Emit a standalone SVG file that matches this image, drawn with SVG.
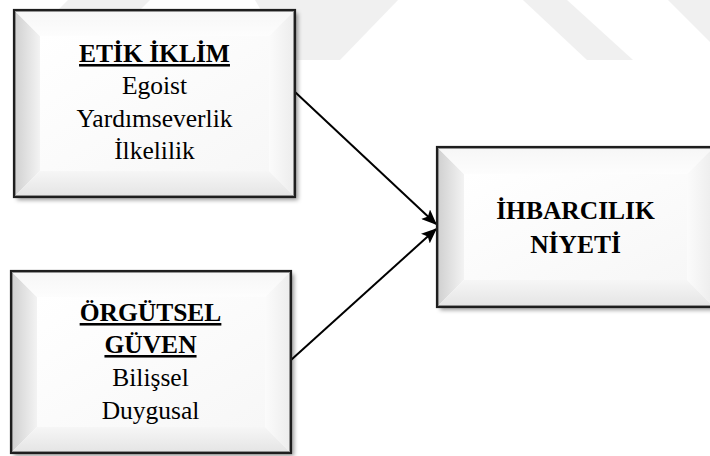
<svg xmlns="http://www.w3.org/2000/svg" width="710" height="456" viewBox="0 0 710 456">
  <defs>
    <style>
      .wm { fill: #f0f0f0; }
      .border { fill: none; stroke: #1e1e1e; stroke-width: 2.2; }
      .inner { fill: none; stroke: #8a8a8a; stroke-width: 0.8; }
      .bl { fill: url(#gLeft); }
      .bt { fill: url(#gTop); }
      .br { fill: url(#gRight); }
      .bb { fill: url(#gBottom); }
      .face { fill: url(#gFace); }
      text { font-family: "Liberation Serif", "Times New Roman", serif; font-size: 25.5px; fill: #000; text-anchor: middle; }
      .title { font-weight: bold; text-decoration: underline; }
      .title2 { font-weight: bold; }
      .conn { stroke: #000; stroke-width: 2; fill: none; marker-end: url(#arrow); }
    </style>
    <linearGradient id="gLeft" x1="0" y1="0" x2="1" y2="0">
      <stop offset="0" stop-color="#cfcfcf"/>
      <stop offset="1" stop-color="#f3f3f3"/>
    </linearGradient>
    <linearGradient id="gTop" x1="0" y1="0" x2="0" y2="1">
      <stop offset="0" stop-color="#f6f6f6"/>
      <stop offset="1" stop-color="#fdfdfd"/>
    </linearGradient>
    <linearGradient id="gRight" x1="0" y1="0" x2="1" y2="0">
      <stop offset="0" stop-color="#fbfbfb"/>
      <stop offset="1" stop-color="#ececec"/>
    </linearGradient>
    <linearGradient id="gBottom" x1="0" y1="0" x2="0" y2="1">
      <stop offset="0" stop-color="#f6f6f6"/>
      <stop offset="1" stop-color="#e4e4e4"/>
    </linearGradient>
    <linearGradient id="gFace" x1="0" y1="0" x2="1" y2="1">
      <stop offset="0" stop-color="#ffffff"/>
      <stop offset="1" stop-color="#f7f7f7"/>
    </linearGradient>
    <filter id="shadow" x="-10%" y="-10%" width="125%" height="125%">
      <feDropShadow dx="3" dy="3" stdDeviation="2" flood-color="#000" flood-opacity="0.4"/>
    </filter>
    <marker id="arrow" viewBox="0 0 12 10" refX="11" refY="5" markerWidth="8" markerHeight="6.5" markerUnits="strokeWidth" orient="auto">
      <path d="M0,0 L12,5 L0,10 L2.5,5 Z" fill="#000"/>
    </marker>
  </defs>

  <g id="watermark">
    <polygon class="wm" points="68,0 150,0 140,10 58,10"/>
    <polygon class="wm" points="255,0 398,0 340,60 290,60"/>
    <polygon class="wm" points="523,0 567,0 633,60 587,60"/>
    <polygon class="wm" points="668,0 710,0 710,42"/>
  </g>

  <g id="connectors">
    <line class="conn" x1="295" y1="92" x2="436" y2="224"/>
    <line class="conn" x1="291" y1="360" x2="436" y2="229"/>
  </g>

  <g id="etik-iklim">
    <g filter="url(#shadow)">
      <rect x="14" y="10" width="281" height="187" fill="#fff"/>
    </g>
    <polygon class="bl" points="14,10 40,36 40,171 14,197"/>
    <polygon class="bt" points="14,10 295,10 269,36 40,36"/>
    <polygon class="br" points="295,10 295,197 269,171 269,36"/>
    <polygon class="bb" points="14,197 40,171 269,171 295,197"/>
    <rect class="face" x="40" y="36" width="229" height="135"/>
    <rect class="inner" x="15.6" y="11.6" width="277.8" height="183.8"/>
    <rect class="border" x="14" y="10" width="281" height="187"/>
    <text class="title" x="154.5" y="62">ETİK İKLİM</text>
    <text x="154.5" y="94">Egoist</text>
    <text x="154.5" y="127">Yardımseverlik</text>
    <text x="154.5" y="159">İlkelilik</text>
  </g>

  <g id="orgutsel-guven">
    <g filter="url(#shadow)">
      <rect x="11" y="271" width="280" height="182" fill="#fff"/>
    </g>
    <polygon class="bl" points="11,271 37,297 37,427 11,453"/>
    <polygon class="bt" points="11,271 291,271 265,297 37,297"/>
    <polygon class="br" points="291,271 291,453 265,427 265,297"/>
    <polygon class="bb" points="11,453 37,427 265,427 291,453"/>
    <rect class="face" x="37" y="297" width="228" height="130"/>
    <rect class="inner" x="12.6" y="272.6" width="276.8" height="178.8"/>
    <rect class="border" x="11" y="271" width="280" height="182"/>
    <text class="title" x="150.5" y="321">ÖRGÜTSEL</text>
    <text class="title" x="150.5" y="353">GÜVEN</text>
    <text x="150.5" y="386">Bilişsel</text>
    <text x="150.5" y="419">Duygusal</text>
  </g>

  <g id="ihbarcilik-niyeti">
    <g filter="url(#shadow)">
      <rect x="437" y="147" width="277" height="160" fill="#fff"/>
    </g>
    <polygon class="bl" points="437,147 464,174 464,280 437,307"/>
    <polygon class="bt" points="437,147 714,147 687,174 464,174"/>
    <polygon class="br" points="714,147 714,307 687,280 687,174"/>
    <polygon class="bb" points="437,307 464,280 687,280 714,307"/>
    <rect class="face" x="464" y="174" width="223" height="106"/>
    <rect class="inner" x="438.6" y="148.6" width="273.8" height="156.8"/>
    <rect class="border" x="437" y="147" width="277" height="160"/>
    <text class="title2" x="575.5" y="219">İHBARCILIK</text>
    <text class="title2" x="575.5" y="253">NİYETİ</text>
  </g>
</svg>
